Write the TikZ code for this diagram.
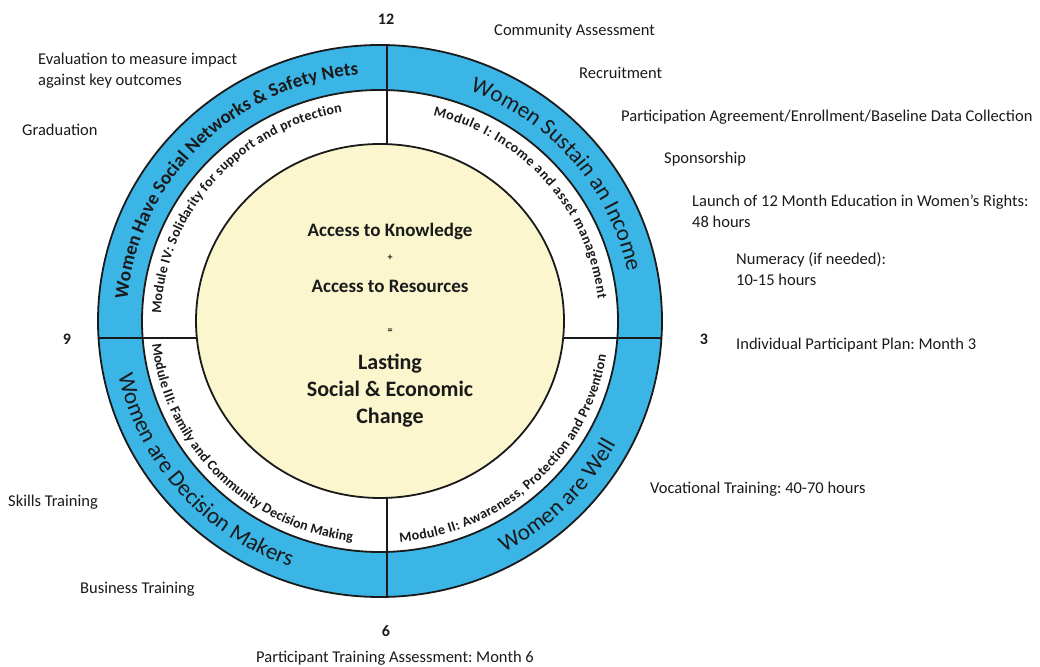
\documentclass[tikz,border=0pt]{standalone}
\usepackage{fontspec}
\setmainfont{Carlito}
\usepackage{tikz}
\usetikzlibrary{decorations.text}
\definecolor{ink}{HTML}{1A1A1A}
\definecolor{ringblue}{HTML}{3BB4E6}
\definecolor{cream}{HTML}{FBF6CD}
\frenchspacing

\begin{document}
\begin{tikzpicture}[x=1pt,y=1pt]
  \tikzstyle{note}=[anchor=base west,inner sep=0pt,text=ink,align=left,font=\fontsize{16.5}{21}\selectfont]
  \tikzstyle{hour}=[anchor=base,inner sep=0pt,text=ink,font=\bfseries\fontsize{16}{19}\selectfont]
  \tikzstyle{core}=[anchor=base,inner sep=0pt,text=ink,font=\bfseries\fontsize{19}{23}\selectfont]
  \tikzstyle{goal}=[decorate,decoration={text along path,text align=center,text color=ink}]
  \tikzstyle{module}=[decorate,decoration={text along path,text align=fit to path,text color=ink}]
  \tikzstyle{rim}=[line width=1.8pt,draw=ink]
  \useasboundingbox (0,0) rectangle (1040,666);

  % the wheel
  \coordinate (c) at (380,345);
  \fill[ringblue] (c) ellipse[x radius=282,y radius=276];
  \fill[white] (c) ellipse[x radius=238,y radius=231];
  \draw[rim] (387,69) -- (387,621);
  \draw[rim] (98.5,328) -- (661.5,328);
  \filldraw[rim,fill=cream] (c) ellipse[x radius=184,y radius=177];
  \draw[rim] (c) ellipse[x radius=238,y radius=231];
  \draw[rim] (c) ellipse[x radius=282,y radius=276];

  % curved labels, outer ring then modules
  \begin{scope}[shift={(380,345)}]
    \path[goal,decoration={text={|\bfseries\fontsize{19}{23}\selectfont|Women Have Social Networks {\&} Safety Nets}}]
      (185:253.5 and 247) arc[start angle=185,end angle=85,x radius=253.5,y radius=247];
    \path[goal,decoration={text={|\fontsize{23}{28}\selectfont|Women Sustain an Income}}]
      (95:252.5 and 246) arc[start angle=95,end angle=-15,x radius=252.5,y radius=246];
    \path[goal,decoration={text={|\fontsize{23}{28}\selectfont|Women are Well}}]
      (-90:267.5 and 261) arc[start angle=-90,end angle=0,x radius=267.5,y radius=261];
    \path[goal,decoration={text={|\fontsize{23}{28}\selectfont|Women are Decision Makers}}]
      (176:267.5 and 261) arc[start angle=176,end angle=266,x radius=267.5,y radius=261];

    \path[module,decoration={text={|\bfseries\fontsize{14}{17}\selectfont|Module IV: Solidarity for support and protection}}]
      (178:219 and 212) arc[start angle=178,end angle=100,x radius=219,y radius=212];
    \path[module,decoration={text={|\bfseries\fontsize{14}{17}\selectfont|Module I: Income and asset management}}]
      (76:219 and 212) arc[start angle=76,end angle=6,x radius=219,y radius=212];
    \path[module,decoration={text={|\bfseries\fontsize{14}{17}\selectfont|Module II: Awareness, Protection and Prevention}}]
      (-85:229 and 222) arc[start angle=-85,end angle=-9,x radius=229,y radius=222];
    \path[module,decoration={text={|\bfseries\fontsize{14}{17}\selectfont|Module III: Family and Community Decision Making}}]
      (186:229 and 222) arc[start angle=186,end angle=263,x radius=229,y radius=222];
  \end{scope}

  % centre
  \node[core] (know) at (390,429) {Access to Knowledge};
  \node[core,font=\bfseries\fontsize{10}{12}\selectfont] (plus) at (390,405) {+};
  \node[core] (res) at (390,373) {Access to Resources};
  \node[core,font=\bfseries\fontsize{10}{12}\selectfont] (eq) at (390,332) {=};
  \node[core,anchor=center,align=center,font=\bfseries\fontsize{22}{27}\selectfont] (change) at (390,275) {Lasting\\Social \& Economic\\Change};

  % clock
  \node[hour] (n12) at (386,641) {12};
  \node[hour] (n3) at (704,321) {3};
  \node[hour] (n6) at (386,30) {6};
  \node[hour] (n9) at (67,321) {9};

  % timeline steps
  \node[note] (eval) at (38,580) {Evaluation to measure impact\\against key outcomes};
  \node[note] (grad) at (22,530) {Graduation};
  \node[note] (skills) at (8,159) {Skills Training};
  \node[note] (business) at (80,73) {Business Training};
  \node[note] (community) at (494,630) {Community Assessment};
  \node[note] (recruit) at (579,587) {Recruitment};
  \node[note] (agree) at (621,544) {Participation Agreement/Enrollment/Baseline Data Collection};
  \node[note] (sponsor) at (664,502) {Sponsorship};
  \node[note] (launch) at (692,438) {Launch of 12 Month Education in Women’s Rights:\\48 hours};
  \node[note] (numeracy) at (736,380) {Numeracy (if needed):\\10-15 hours};
  \node[note] (plan) at (736,316) {Individual Participant Plan: Month 3};
  \node[note] (vocational) at (650,172) {Vocational Training: 40-70 hours};
  \node[note,anchor=base] (assess) at (395,4) {Participant Training Assessment: Month 6};
\end{tikzpicture}
\end{document}
